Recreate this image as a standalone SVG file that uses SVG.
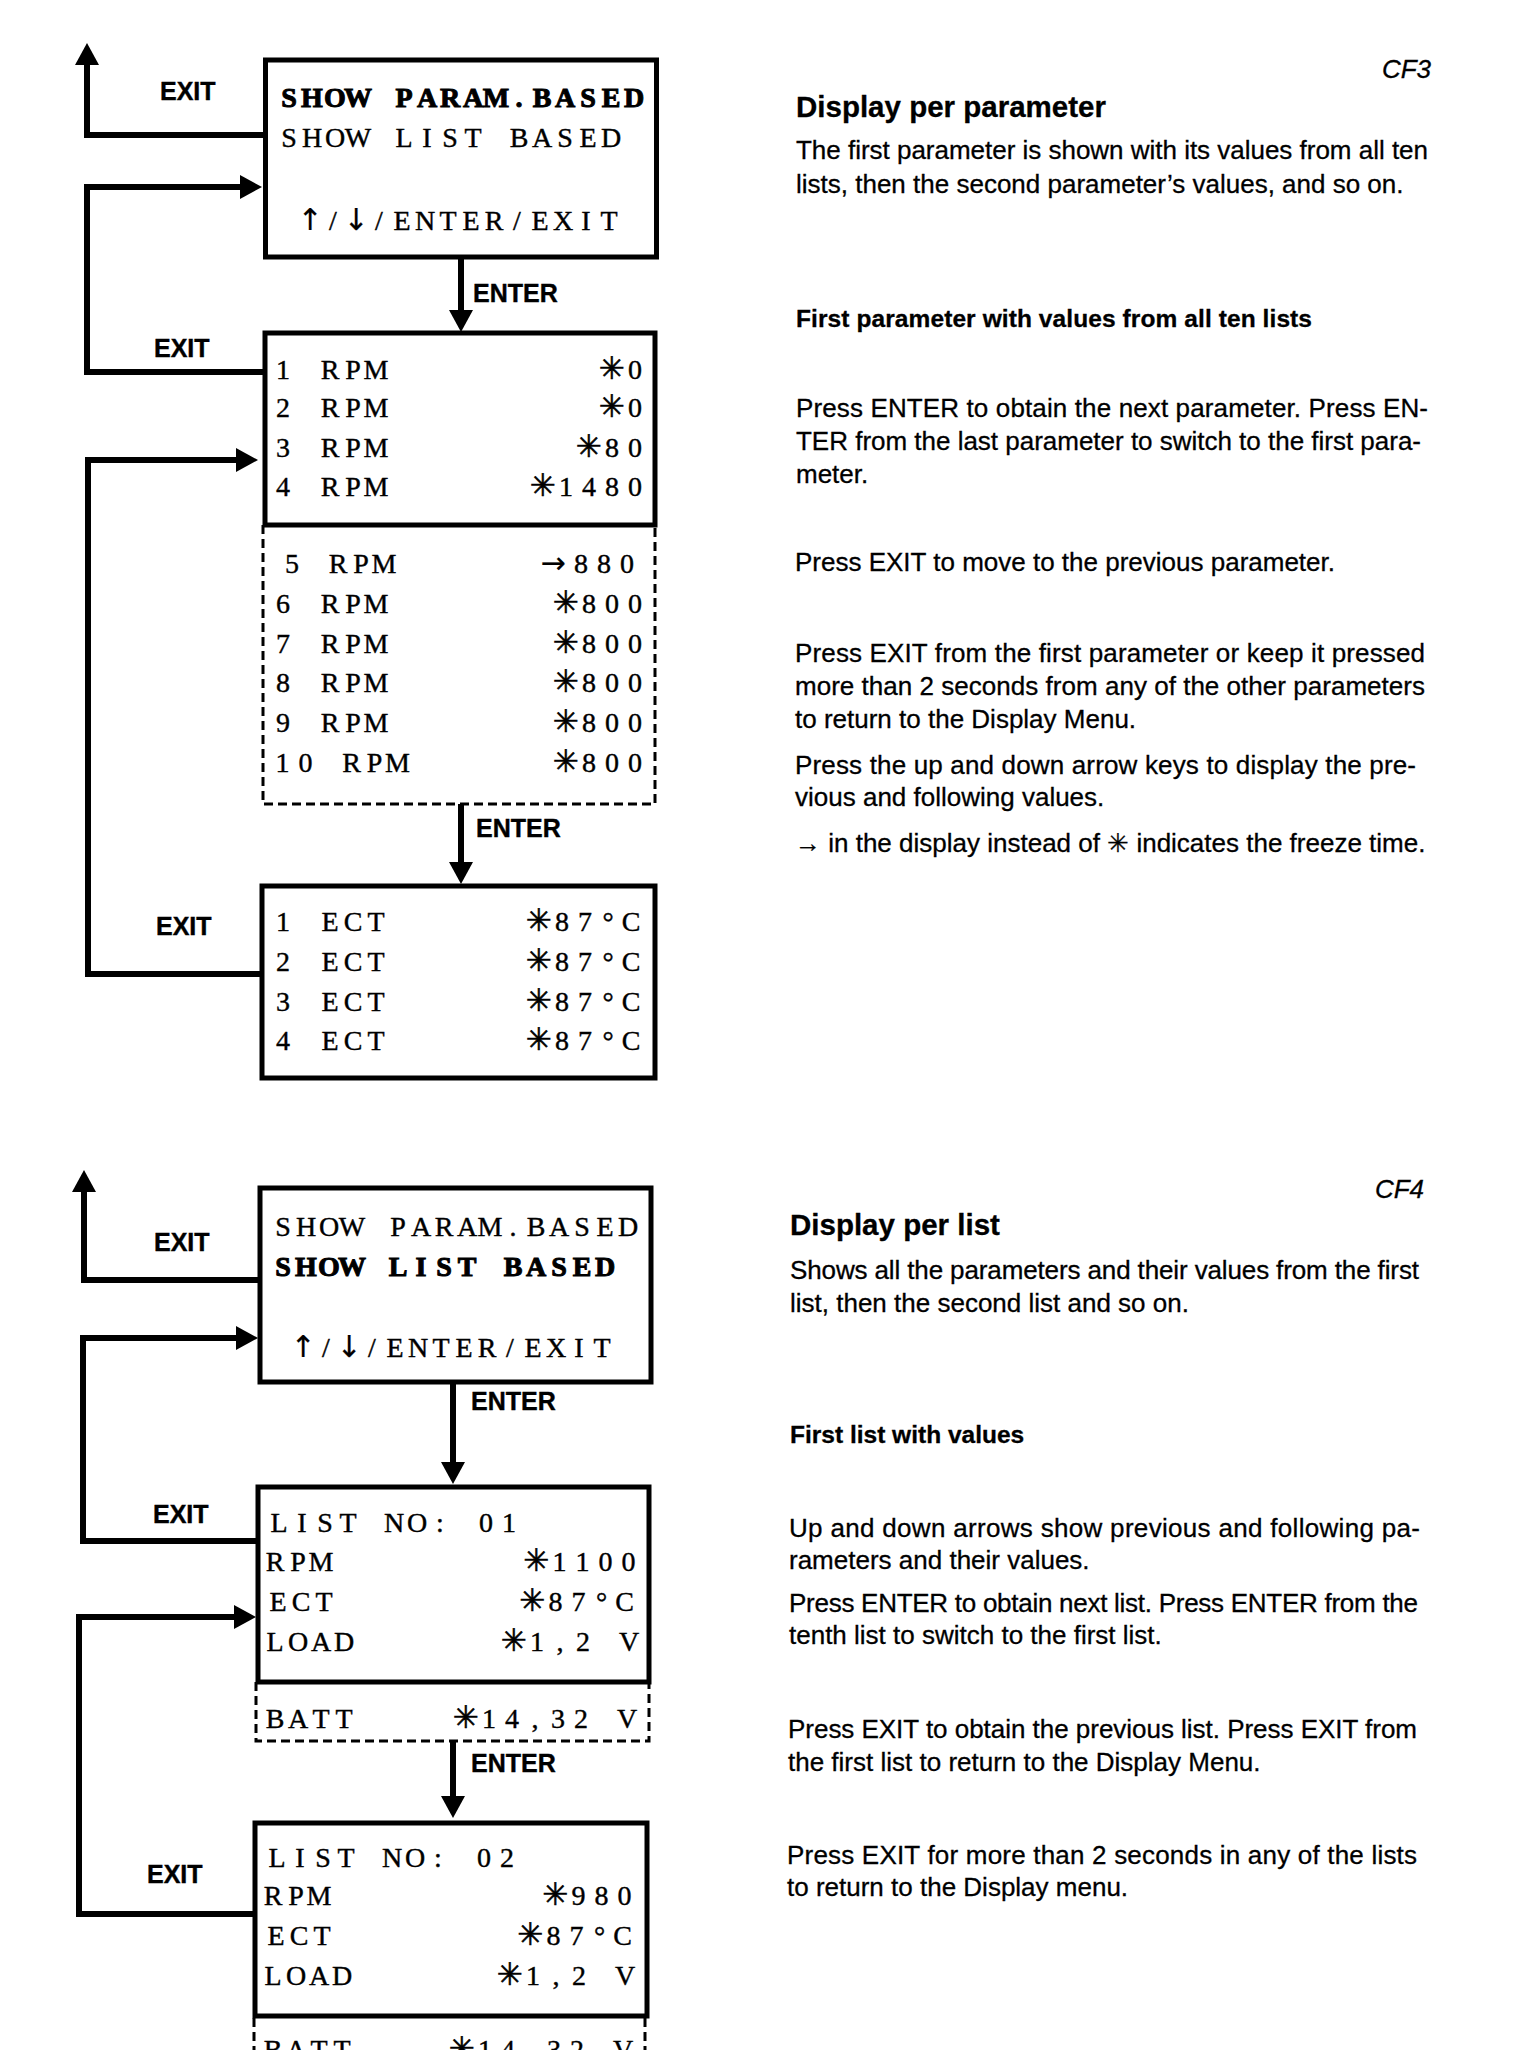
<svg xmlns="http://www.w3.org/2000/svg" width="1536" height="2050" viewBox="0 0 1536 2050">
<style>
.box{fill:#fff;stroke:#000;stroke-width:5}
.dash{fill:none;stroke:#000;stroke-width:3;stroke-dasharray:9 5}
.conn{fill:none;stroke:#000;stroke-width:6;stroke-linejoin:miter}
.lcd{font-family:"Liberation Serif","DejaVu Serif",serif;font-size:28px;text-anchor:middle;fill:#000;stroke:#000;stroke-width:0.4px}
.b{font-weight:bold;stroke-width:1px}
.st{font-family:"DejaVu Sans",sans-serif;font-size:31px;font-weight:normal;stroke-width:0.6px}
.ar{font-family:"DejaVu Sans",sans-serif;font-size:30px;font-weight:normal;stroke-width:0.2px}
.key{font-family:"Liberation Sans",Arial,sans-serif;font-weight:bold;font-size:25px;fill:#000;stroke:#000;stroke-width:0.4px}
.body{font-family:"Liberation Sans",Arial,sans-serif;font-size:26px;fill:#000;stroke:#000;stroke-width:0.3px}
.h{font-weight:bold;font-size:29.5px}
.sub{font-weight:bold;font-size:24.5px}
.cf{font-style:italic;font-size:26px;text-anchor:end}
</style>
<defs>
<marker id="ah" viewBox="0 0 22 24" refX="0" refY="12" markerWidth="22" markerHeight="24" markerUnits="userSpaceOnUse" orient="auto"><path d="M0,0 L22,12 L0,24 z" fill="#000"/></marker>
</defs>
<rect width="1536" height="2050" fill="#fff"/>

<g id="connectors">
<path class="conn" marker-end="url(#ah)" d="M265,135 H87 V65"/>
<path class="conn" marker-end="url(#ah)" d="M265,372 H87 V187 H240"/>
<path class="conn" marker-end="url(#ah)" d="M262,974 H88 V460 H236"/>
<path class="conn" marker-end="url(#ah)" d="M461,258 V310"/>
<path class="conn" marker-end="url(#ah)" d="M461,804 V862"/>
<path class="conn" marker-end="url(#ah)" d="M260,1280 H84 V1192"/>
<path class="conn" marker-end="url(#ah)" d="M258,1541 H83 V1338 H236"/>
<path class="conn" marker-end="url(#ah)" d="M255,1914 H79 V1617 H234"/>
<path class="conn" marker-end="url(#ah)" d="M453,1383 V1462"/>
<path class="conn" marker-end="url(#ah)" d="M453,1741 V1796"/>
<text class="key" x="160" y="100">EXIT</text>
<text class="key" x="473" y="302">ENTER</text>
<text class="key" x="154" y="357">EXIT</text>
<text class="key" x="476" y="837">ENTER</text>
<text class="key" x="156" y="935">EXIT</text>
<text class="key" x="154" y="1251">EXIT</text>
<text class="key" x="471" y="1410">ENTER</text>
<text class="key" x="153" y="1523">EXIT</text>
<text class="key" x="471" y="1772">ENTER</text>
<text class="key" x="147" y="1883">EXIT</text>
</g>

<g id="cf3-menu">
<rect class="box" x="265.5" y="60" width="391" height="197"/>
<text class="lcd b" x="289 312 335 358 381 404 427 450 473 496 519 542 565 588 611 634" y="107">SHOW PARAM.BASED</text>
<text class="lcd" x="289 312 335 358 381 404 427 450 473 496 519 542 565 588 611" y="147">SHOW LIST BASED</text>
<text class="lcd" x="310 333 356 379 402 425 448 471 494 517 540 563 586 609" y="230"><tspan class="ar">↑</tspan>/<tspan class="ar">↓</tspan>/ENTER/EXIT</text>
</g>

<g id="cf3-rpm">
<rect class="box" x="265" y="333" width="390" height="192"/>
<path class="dash" d="M263,525 V804 H655 V525"/>
<text class="lcd" x="283 306 330 353 376" y="378.5">1 RPM</text><text class="lcd" x="612 635" y="378.5"><tspan class="st">✳</tspan>0</text>
<text class="lcd" x="283 306 330 353 376" y="417">2 RPM</text><text class="lcd" x="612 635" y="417"><tspan class="st">✳</tspan>0</text>
<text class="lcd" x="283 306 330 353 376" y="457">3 RPM</text><text class="lcd" x="589 612 635" y="457"><tspan class="st">✳</tspan>80</text>
<text class="lcd" x="283 306 330 353 376" y="496">4 RPM</text><text class="lcd" x="543 566 589 612 635" y="496"><tspan class="st">✳</tspan>1480</text>
<text class="lcd" x="292 315 338 361 384" y="572.5">5 RPM</text><text class="lcd" x="553 581 604 627" y="572.5"><tspan class="ar">→</tspan>880</text>
<text class="lcd" x="283 306 330 353 376" y="612.5">6 RPM</text><text class="lcd" x="566 589 612 635" y="612.5"><tspan class="st">✳</tspan>800</text>
<text class="lcd" x="283 306 330 353 376" y="652.5">7 RPM</text><text class="lcd" x="566 589 612 635" y="652.5"><tspan class="st">✳</tspan>800</text>
<text class="lcd" x="283 306 330 353 376" y="692">8 RPM</text><text class="lcd" x="566 589 612 635" y="692"><tspan class="st">✳</tspan>800</text>
<text class="lcd" x="283 306 330 353 376" y="731.5">9 RPM</text><text class="lcd" x="566 589 612 635" y="731.5"><tspan class="st">✳</tspan>800</text>
<text class="lcd" x="282.5 305.5 328.5 351.5 374.5 397.5" y="772">10 RPM</text><text class="lcd" x="566 589 612 635" y="772"><tspan class="st">✳</tspan>800</text>
</g>

<g id="cf3-ect">
<rect class="box" x="262" y="886" width="393" height="192"/>
<text class="lcd" x="283 306 330 353 376" y="930.5">1 ECT</text><text class="lcd" x="539 562 585 608 631" y="930.5"><tspan class="st">✳</tspan>87°C</text>
<text class="lcd" x="283 306 330 353 376" y="970.5">2 ECT</text><text class="lcd" x="539 562 585 608 631" y="970.5"><tspan class="st">✳</tspan>87°C</text>
<text class="lcd" x="283 306 330 353 376" y="1010.5">3 ECT</text><text class="lcd" x="539 562 585 608 631" y="1010.5"><tspan class="st">✳</tspan>87°C</text>
<text class="lcd" x="283 306 330 353 376" y="1050">4 ECT</text><text class="lcd" x="539 562 585 608 631" y="1050"><tspan class="st">✳</tspan>87°C</text>
</g>

<g id="cf4-menu">
<rect class="box" x="260" y="1188" width="391" height="194"/>
<text class="lcd" x="283 306 329 352 375 398 421 444 467 490 513 536 559 582 605 628" y="1236">SHOW PARAM.BASED</text>
<text class="lcd b" x="283 306 329 352 375 398 421 444 467 490 513 536 559 582 605" y="1276">SHOW LIST BASED</text>
<text class="lcd" x="303 326 349 372 395 418 441 464 487 510 533 556 579 602" y="1357"><tspan class="ar">↑</tspan>/<tspan class="ar">↓</tspan>/ENTER/EXIT</text>
</g>

<g id="cf4-list1">
<rect class="box" x="258" y="1487" width="391" height="195"/>
<path class="dash" d="M256,1682 V1741 H649 V1682"/>
<text class="lcd" x="279 302 325 348 371 394 417 440 463 486 509" y="1532">LIST NO: 01</text>
<text class="lcd" x="275 298 321" y="1571">RPM</text><text class="lcd" x="536.5 559.5 582.5 605.5 628.5" y="1571"><tspan class="st">✳</tspan>1100</text>
<text class="lcd" x="278 301 324" y="1611">ECT</text><text class="lcd" x="532.5 555.5 578.5 601.5 624.5" y="1611"><tspan class="st">✳</tspan>87°C</text>
<text class="lcd" x="275 298 321 344" y="1651">LOAD</text><text class="lcd" x="514 537 560 583 606 629" y="1651"><tspan class="st">✳</tspan>1,2 V</text>
<text class="lcd" x="275 298 321 344" y="1728">BATT</text><text class="lcd" x="466 489 512 535 558 581 604 627" y="1728"><tspan class="st">✳</tspan>14,32 V</text>
</g>

<g id="cf4-list2">
<rect class="box" x="255" y="1823" width="392" height="193"/>
<path class="dash" d="M254,2018 V2070 M645,2018 V2070"/>
<text class="lcd" x="277 300 323 346 369 392 415 438 461 484 507" y="1867">LIST NO: 02</text>
<text class="lcd" x="273 296 319" y="1905">RPM</text><text class="lcd" x="555.5 578.5 601.5 624.5" y="1905"><tspan class="st">✳</tspan>980</text>
<text class="lcd" x="276 299 322" y="1945">ECT</text><text class="lcd" x="530.5 553.5 576.5 599.5 622.5" y="1945"><tspan class="st">✳</tspan>87°C</text>
<text class="lcd" x="273 296 319 342" y="1985">LOAD</text><text class="lcd" x="510 533 556 579 602 625" y="1985"><tspan class="st">✳</tspan>1,2 V</text>
<text class="lcd" x="273 296 319 342" y="2059">BATT</text><text class="lcd" x="462 485 508 531 554 577 600 623" y="2059"><tspan class="st">✳</tspan>14,32 V</text>
</g>

<g id="notes">
<text class="body cf" x="1431" y="78">CF3</text>
<text class="body h" x="796" y="117">Display per parameter</text>
<text class="body" x="796" y="159" textLength="632" lengthAdjust="spacing">The first parameter is shown with its values from all ten</text>
<text class="body" x="796" y="193">lists, then the second parameter’s values, and so on.</text>
<text class="body sub" x="796" y="327" textLength="516" lengthAdjust="spacing">First parameter with values from all ten lists</text>
<text class="body" x="796" y="417" textLength="632" lengthAdjust="spacing">Press ENTER to obtain the next parameter. Press EN-</text>
<text class="body" x="796" y="450" textLength="625" lengthAdjust="spacing">TER from the last parameter to switch to the first para-</text>
<text class="body" x="796" y="483">meter.</text>
<text class="body" x="795" y="571">Press EXIT to move to the previous parameter.</text>
<text class="body" x="795" y="662" textLength="630" lengthAdjust="spacing">Press EXIT from the first parameter or keep it pressed</text>
<text class="body" x="795" y="695" textLength="630" lengthAdjust="spacing">more than 2 seconds from any of the other parameters</text>
<text class="body" x="795" y="728">to return to the Display Menu.</text>
<text class="body" x="795" y="774" textLength="621" lengthAdjust="spacing">Press the up and down arrow keys to display the pre-</text>
<text class="body" x="795" y="806">vious and following values.</text>
<text class="body" x="795" y="852">→ in the display instead of ✳ indicates the freeze time.</text>

<text class="body cf" x="1424" y="1198">CF4</text>
<text class="body h" x="790" y="1235">Display per list</text>
<text class="body" x="790" y="1279" textLength="629" lengthAdjust="spacing">Shows all the parameters and their values from the first</text>
<text class="body" x="790" y="1312">list, then the second list and so on.</text>
<text class="body sub" x="790" y="1443">First list with values</text>
<text class="body" x="789" y="1537" textLength="631" lengthAdjust="spacing">Up and down arrows show previous and following pa-</text>
<text class="body" x="789" y="1569">rameters and their values.</text>
<text class="body" x="789" y="1612" textLength="629" lengthAdjust="spacing">Press ENTER to obtain next list. Press ENTER from the</text>
<text class="body" x="789" y="1644">tenth list to switch to the first list.</text>
<text class="body" x="788" y="1738" textLength="629" lengthAdjust="spacing">Press EXIT to obtain the previous list. Press EXIT from</text>
<text class="body" x="788" y="1771">the first list to return to the Display Menu.</text>
<text class="body" x="787" y="1864" textLength="630" lengthAdjust="spacing">Press EXIT for more than 2 seconds in any of the lists</text>
<text class="body" x="787" y="1896">to return to the Display menu.</text>
</g>
</svg>
